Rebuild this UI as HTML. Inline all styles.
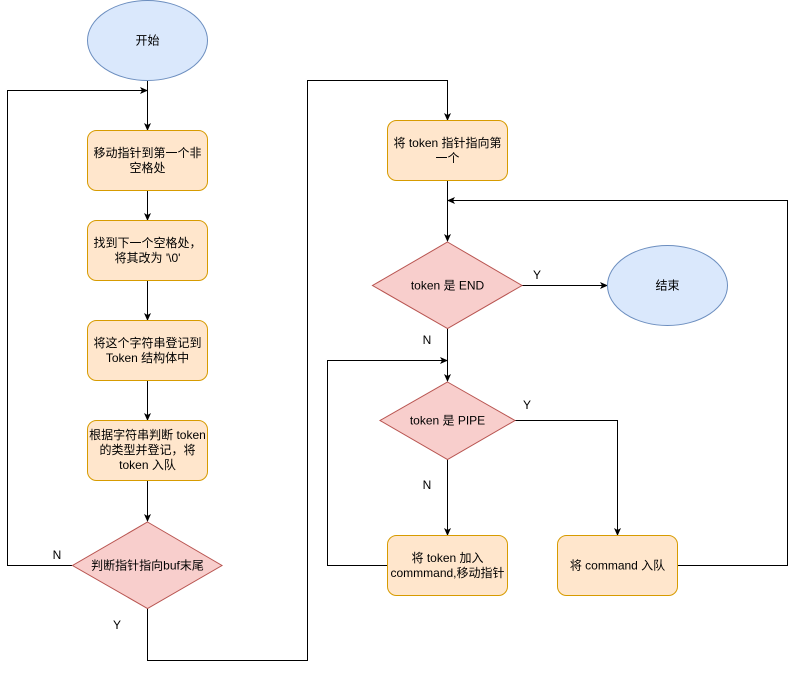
<!DOCTYPE html>
<html><head><meta charset="utf-8"><style>
body{margin:0;background:#fff}
svg text{font-family:"Liberation Sans","Noto Sans CJK SC",sans-serif;font-size:12px;fill:#000}
</style></head><body>
<svg width="797" height="670" viewBox="0 0 797 670" xmlns="http://www.w3.org/2000/svg">
<defs><marker id="a" markerWidth="8" markerHeight="8" refX="7" refY="4" orient="auto" markerUnits="userSpaceOnUse"><path d="M0,0.5 L8,4 L0,7.5 L2,4 Z" fill="#000"/></marker></defs>
<g fill="none" stroke="#000" stroke-width="1">
<path d="M147.5,80 V130" marker-end="url(#a)"/>
<path d="M147.5,190 V220" marker-end="url(#a)"/>
<path d="M147.5,280 V320" marker-end="url(#a)"/>
<path d="M147.5,380 V420" marker-end="url(#a)"/>
<path d="M147.5,480 V521" marker-end="url(#a)"/>
<path d="M72,565.5 H7.5 V90.5 H147" marker-end="url(#a)"/>
<path d="M147.5,608 V660.5 H307.5 V80.5 H447.5 V120" marker-end="url(#a)"/>
<path d="M447.5,180 V241" marker-end="url(#a)"/>
<path d="M522,285.5 H607" marker-end="url(#a)"/>
<path d="M447.5,328 V381" marker-end="url(#a)"/>
<path d="M515,420.5 H617.5 V535" marker-end="url(#a)"/>
<path d="M447.5,459 V535" marker-end="url(#a)"/>
<path d="M387,565.5 H327.5 V360.5 H447" marker-end="url(#a)"/>
<path d="M677,565.5 H787.5 V200.5 H448" marker-end="url(#a)"/>
</g>
<ellipse cx="147.5" cy="40.5" rx="60" ry="40" fill="#dae8fc" stroke="#6c8ebf"/>
<ellipse cx="667.5" cy="285.5" rx="60" ry="40" fill="#dae8fc" stroke="#6c8ebf"/>
<g fill="#ffe6cc" stroke="#d79b00">
<rect x="87.5" y="130.5" width="120" height="60" rx="9"/>
<rect x="87.5" y="220.5" width="120" height="60" rx="9"/>
<rect x="87.5" y="320.5" width="120" height="60" rx="9"/>
<rect x="87.5" y="420.5" width="120" height="60" rx="9"/>
<rect x="387.5" y="120.5" width="120" height="60" rx="9"/>
<rect x="387.5" y="535.5" width="120" height="60" rx="9"/>
<rect x="557.5" y="535.5" width="120" height="60" rx="9"/>
</g>
<g fill="#f8cecc" stroke="#b85450">
<path d="M147.5,522 L222,565.5 L147.5,608.5 L72.5,565.5 Z"/>
<path d="M447.5,242 L522,285.5 L447.5,328.5 L372.5,285.5 Z"/>
<path d="M447.5,382 L515,420.5 L447.5,459.5 L380,420.5 Z"/>
</g>
<g text-anchor="middle">
<text x="147.5" y="44.5">开始</text>
<text x="667.5" y="289.5">结束</text>
<text x="147.5" y="157">移动指针到第一个非</text><text x="147.5" y="172">空格处</text>
<text x="147.5" y="247">找到下一个空格处，</text><text x="147.5" y="262">将其改为 '\0'</text>
<text x="147.5" y="347">将这个字符串登记到</text><text x="147.5" y="362">Token 结构体中</text>
<text x="147.5" y="439">根据字符串判断 token</text><text x="147.5" y="454">的类型并登记，将</text><text x="147.5" y="469">token 入队</text>
<text x="147.5" y="569.5">判断指针指向buf末尾</text>
<text x="447.5" y="147">将 token 指针指向第</text><text x="447.5" y="162">一个</text>
<text x="447.5" y="289.5">token 是 END</text>
<text x="447.5" y="424.5">token 是 PIPE</text>
<text x="447.5" y="562">将 token 加入</text><text x="447.5" y="577">commmand,移动指针</text>
<text x="617.5" y="569.5">将 command 入队</text>
<text x="57" y="559">N</text>
<text x="117" y="629">Y</text>
<text x="537" y="279">Y</text>
<text x="427" y="344">N</text>
<text x="527" y="409">Y</text>
<text x="427" y="489">N</text>
</g>
</svg>
</body></html>
